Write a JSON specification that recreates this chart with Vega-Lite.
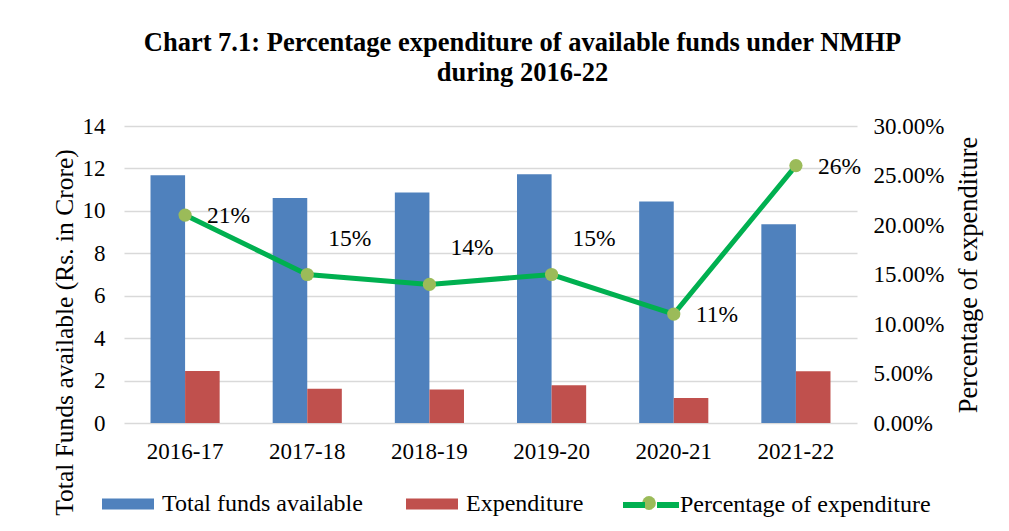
{
  "$schema": "https://vega.github.io/schema/vega-lite/v6.json",
  "autosize": "none",
  "width": 733,
  "height": 297,
  "padding": {"left": 124, "top": 126, "right": 152, "bottom": 108},
  "background": "white",
  "config": {
    "font": "Liberation Serif",
    "view": {"stroke": null},
    "axis": {"labelFont": "Liberation Serif", "titleFont": "Liberation Serif", "labelColor": "#000", "titleColor": "#000", "titleFontWeight": "normal"},
    "legend": {"padding": 0}
  },
  "title": {
    "text": ["Chart 7.1:  Percentage expenditure of available funds under NMHP", "during 2016-22"],
    "font": "Liberation Serif",
    "fontSize": 26.5,
    "fontWeight": "bold",
    "color": "#000",
    "anchor": "middle",
    "dx": 32,
    "offset": 29,
    "lineHeight": 30
  },
  "data": {
    "values": [
      {"year": "2016-17", "Total funds available": 11.68, "Expenditure": 2.45, "pct": 0.21},
      {"year": "2017-18", "Total funds available": 10.61, "Expenditure": 1.62, "pct": 0.15},
      {"year": "2018-19", "Total funds available": 10.87, "Expenditure": 1.58, "pct": 0.14},
      {"year": "2019-20", "Total funds available": 11.73, "Expenditure": 1.78, "pct": 0.15},
      {"year": "2020-21", "Total funds available": 10.44, "Expenditure": 1.18, "pct": 0.11},
      {"year": "2021-22", "Total funds available": 9.37, "Expenditure": 2.44, "pct": 0.26}
    ]
  },
  "encoding": {
    "x": {
      "field": "year",
      "type": "nominal",
      "sort": null,
      "scale": {"paddingInner": 0.434, "paddingOuter": 0.217},
      "axis": {"title": null, "labelAngle": 0, "labelFontSize": 23, "labelPadding": 17, "domain": false, "ticks": false, "grid": false}
    }
  },
  "layer": [
    {
      "transform": [{"fold": ["Total funds available", "Expenditure"], "as": ["series", "value"]}],
      "mark": {"type": "bar"},
      "encoding": {
        "xOffset": {"field": "series", "type": "nominal", "sort": ["Total funds available", "Expenditure"], "scale": {"paddingInner": 0, "paddingOuter": 0}},
        "y": {
          "field": "value",
          "type": "quantitative",
          "scale": {"domain": [0, 14]},
          "axis": {
            "title": "Total Funds available (Rs. in Crore)",
            "titleFontSize": 25.5,
            "titleY": 206,
            "titlePadding": 5,
            "values": [0, 2, 4, 6, 8, 10, 12, 14],
            "labelFontSize": 23,
            "labelPadding": 19,
            "domain": false,
            "ticks": false,
            "grid": true,
            "gridColor": "#d9d9d9",
            "gridWidth": 1.5
          }
        },
        "color": {
          "field": "series",
          "type": "nominal",
          "scale": {"domain": ["Total funds available", "Expenditure"], "range": ["#4f81bd", "#c0504d"]},
          "legend": {
            "title": null,
            "orient": "none",
            "direction": "horizontal",
            "legendX": -8,
            "legendY": 366,
            "labelFont": "Liberation Serif",
            "labelFontSize": 24,
            "labelColor": "#000",
            "labelLimit": 0,
            "labelOffset": 22,
            "columnPadding": 43,
            "symbolSize": 400,
            "encode": {
              "symbols": {
                "update": {
                  "size": {"value": 400},
                  "shape": {"value": "M-2.6,-0.55H2.6V0.55H-2.6Z"},
                  "fill": {"signal": "datum.value === 'Expenditure' ? '#c0504d' : '#4f81bd'"},
                  "stroke": {"value": "transparent"},
                  "strokeWidth": {"value": 0},
                  "opacity": {"value": 1}
                }
              }
            }
          }
        }
      }
    },
    {
      "layer": [
        {
          "mark": {"type": "line", "strokeWidth": 5},
          "encoding": {
            "y": {
              "field": "pct",
              "type": "quantitative",
              "scale": {"domain": [0, 0.3]},
              "axis": {
                "orient": "right",
                "title": "Percentage of expenditure",
                "titleFontSize": 26.5,
                "titleAngle": 270,
                "titleBaseline": "top",
                "titlePadding": 12,
                "format": ".2%",
                "values": [0, 0.05, 0.1, 0.15, 0.2, 0.25, 0.3],
                "labelFontSize": 23,
                "labelPadding": 16,
                "domain": false,
                "ticks": false,
                "grid": false
              }
            },
            "color": {
              "datum": "Percentage of expenditure",
              "scale": {"domain": ["Percentage of expenditure"], "range": ["#00b050"]},
              "legend": {
                "title": null,
                "orient": "none",
                "legendX": 514,
                "legendY": 366,
                "labelFont": "Liberation Serif",
                "labelFontSize": 24,
                "labelColor": "#000",
                "labelLimit": 0,
                "labelOffset": 16,
                "symbolSize": 400,
                "encode": {
                  "symbols": {
                    "update": {
                      "size": {"value": 400},
                      "shape": {"value": "M-2.8,0H-0.6M0.6,0H2.8"},
                      "fill": {"value": "transparent"},
                      "stroke": {"value": "#00b050"},
                      "strokeWidth": {"value": 6},
                      "opacity": {"value": 1}
                    }
                  }
                }
              }
            }
          }
        },
        {
          "mark": {"type": "point", "filled": true, "size": 175, "color": "#9bbb59", "opacity": 1},
          "encoding": {
            "y": {"field": "pct", "type": "quantitative"},
            "shape": {
              "datum": "marker",
              "scale": {"range": ["circle"]},
              "legend": {
                "title": null,
                "orient": "none",
                "legendX": 517,
                "legendY": 369,
                "labelExpr": "''",
                "symbolSize": 190,
                "encode": {
                  "symbols": {"update": {"fill": {"value": "#9bbb59"}, "stroke": {"value": "transparent"}, "opacity": {"value": 1}}}
                }
              }
            }
          }
        },
        {
          "transform": [{"filter": "datum.year == '2016-17' || datum.year == '2020-21' || datum.year == '2021-22'"}],
          "mark": {"type": "text", "align": "left", "baseline": "middle", "dx": 22, "dy": 1, "font": "Liberation Serif", "fontSize": 23.5, "color": "#000"},
          "encoding": {"y": {"field": "pct", "type": "quantitative"}, "text": {"field": "pct", "type": "quantitative", "format": ".0%"}}
        },
        {
          "transform": [{"filter": "datum.year == '2017-18' || datum.year == '2018-19' || datum.year == '2019-20'"}],
          "mark": {"type": "text", "align": "left", "baseline": "middle", "dx": 21, "dy": -36, "font": "Liberation Serif", "fontSize": 23.5, "color": "#000"},
          "encoding": {"y": {"field": "pct", "type": "quantitative"}, "text": {"field": "pct", "type": "quantitative", "format": ".0%"}}
        }
      ]
    }
  ],
  "resolve": {"scale": {"y": "independent", "color": "independent"}, "legend": {"color": "independent"}}
}
